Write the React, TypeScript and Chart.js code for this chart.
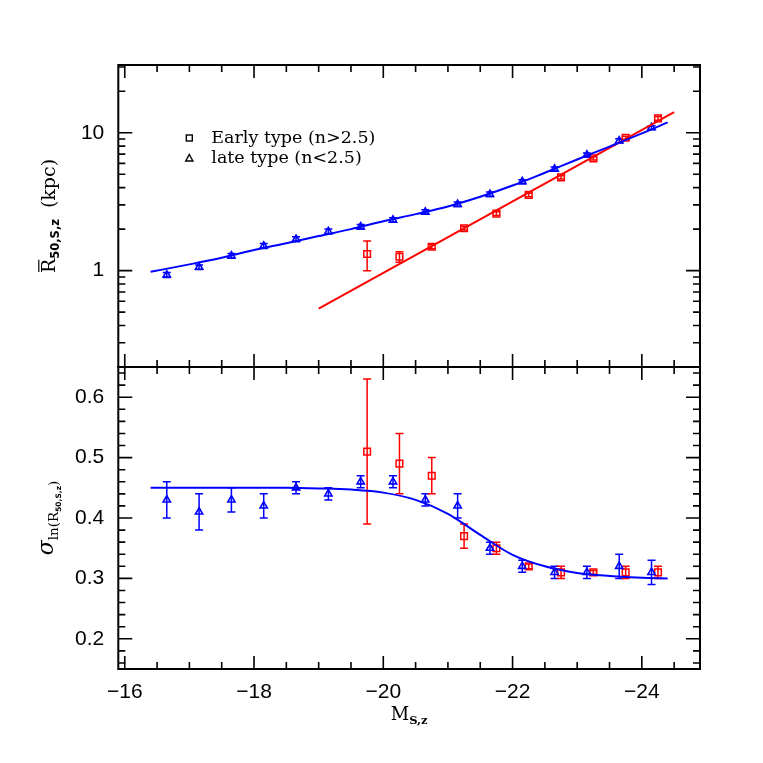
import React, { useEffect, useRef } from "react";
import { Chart, registerables } from "chart.js";

Chart.register(...registerables);

// ---------------- data ----------------
const lateMag = [-16.65, -17.15, -17.65, -18.15, -18.65, -19.15, -19.65, -20.15, -20.65, -21.15, -21.65, -22.15, -22.65, -23.15, -23.65, -24.15];
const lateSize = [0.93, 1.06, 1.28, 1.51, 1.69, 1.92, 2.08, 2.33, 2.66, 3.03, 3.58, 4.42, 5.46, 6.9, 8.75, 10.9];
const lateSizeErr = [0.04, 0.04, 0.05, 0.06, 0.07, 0.08, 0.08, 0.09, 0.1, 0.11, 0.13, 0.15, 0.18, 0.22, 0.28, 0.34];
const lateSigma = [0.43, 0.41, 0.43, 0.42, 0.45, 0.44, 0.46, 0.46, 0.43, 0.42, 0.35, 0.32, 0.31, 0.31, 0.32, 0.31];
const lateSigmaErr = [0.03, 0.03, 0.02, 0.02, 0.01, 0.01, 0.01, 0.01, 0.01, 0.02, 0.01, 0.01, 0.01, 0.01, 0.02, 0.02];

const earlyMag = [-19.75, -20.25, -20.75, -21.25, -21.75, -22.25, -22.75, -23.25, -23.75, -24.25];
const earlySize = [1.32, 1.26, 1.49, 2.03, 2.59, 3.54, 4.75, 6.52, 9.2, 12.7];
const earlySizeErr = [0.32, 0.11, 0.05, 0.06, 0.08, 0.1, 0.13, 0.18, 0.25, 0.4];
const earlySigma = [0.51, 0.49, 0.47, 0.37, 0.35, 0.32, 0.31, 0.31, 0.31, 0.31];
const earlySigmaErr = [0.12, 0.05, 0.03, 0.02, 0.01, 0.004, 0.01, 0.003, 0.01, 0.01];

const fitMag = [-16.4, -17, -17.5, -18, -18.5, -19, -19.5, -20, -20.5, -21, -21.5, -22, -22.5, -23, -23.5, -24, -24.4];
const lateSizeFit = [0.98, 1.11, 1.24, 1.41, 1.58, 1.78, 2.0, 2.28, 2.57, 2.92, 3.43, 4.14, 5.13, 6.4, 7.94, 9.89, 11.9];
const lateSigmaFit = [0.45, 0.45, 0.45, 0.45, 0.45, 0.449, 0.447, 0.442, 0.43, 0.407, 0.372, 0.339, 0.32, 0.309, 0.304, 0.301, 0.3];
const earlyFitMag = [-19.0, -24.5];
const earlySizeFit = [0.53, 14.1];

const xTickValues = [-16, -18, -20, -22, -24];
const sizeTickValues = [1, 10];
const sigmaTickValues = [0.2, 0.3, 0.4, 0.5, 0.6];
const legendLabels = ["Early type (n>2.5)", "late type (n<2.5)"];

// ---------------- styling ----------------
const BLUE = "rgb(0,0,255)";
const RED = "rgb(255,0,0)";
const TICK_FONT = { family: "Liberation Sans", size: 21 };

const pts = (xs: number[], ys: number[]) => xs.map((x, i) => ({ x, y: ys[i] }));

const errorBarPlugin = {
  id: "errorBars",
  beforeDatasetsDraw(chart: any) {
    const ctx = chart.ctx;
    const xs = chart.scales.x;
    chart.data.datasets.forEach((ds: any) => {
      if (!ds.errors) return;
      const ys = chart.scales[ds.yAxisID];
      ctx.save();
      ctx.strokeStyle = ds.borderColor;
      ctx.lineWidth = 1.5;
      ds.data.forEach((p: any, i: number) => {
        const e = ds.errors[i];
        const px = xs.getPixelForValue(p.x);
        const y1 = ys.getPixelForValue(p.y + e);
        const y2 = ys.getPixelForValue(p.y - e);
        ctx.beginPath();
        ctx.moveTo(px, y1);
        ctx.lineTo(px, y2);
        ctx.moveTo(px - 4, y1);
        ctx.lineTo(px + 4, y1);
        ctx.moveTo(px - 4, y2);
        ctx.lineTo(px + 4, y2);
        ctx.stroke();
      });
      ctx.restore();
    });
  },
};

function drawSegs(ctx: CanvasRenderingContext2D, segs: any[], x0: number, base: number) {
  let x = x0;
  const pos: number[] = [];
  for (const s of segs) {
    ctx.font = s.font;
    pos.push(x);
    ctx.fillText(s.t, x, base + s.dy);
    x += ctx.measureText(s.t).width + (s.gap || 0);
  }
  return pos;
}
function segsWidth(ctx: CanvasRenderingContext2D, segs: any[]) {
  let w = 0;
  for (const s of segs) {
    ctx.font = s.font;
    w += ctx.measureText(s.t).width + (s.gap || 0);
  }
  return w;
}

const framePlugin = {
  id: "frame",
  afterDraw(chart: any) {
    const ctx: CanvasRenderingContext2D = chart.ctx;
    const xs = chart.scales.x;
    const ca = chart.chartArea;
    const panels = [chart.scales.ySize, chart.scales.ySigma];
    ctx.save();
    ctx.strokeStyle = "#000";
    ctx.fillStyle = "#000";

    // x ticks (top & bottom of each panel)
    const xMinor: number[] = [];
    for (let v = -24.5; v <= -16; v += 0.5) xMinor.push(v);
    panels.forEach((ys: any) => {
      ctx.lineWidth = 1.6;
      ctx.beginPath();
      xMinor.forEach((v) => {
        const px = xs.getPixelForValue(v);
        const len = v % 2 === 0 ? 13 : 7;
        ctx.moveTo(px, ys.top);
        ctx.lineTo(px, ys.top + len);
        ctx.moveTo(px, ys.bottom);
        ctx.lineTo(px, ys.bottom - len);
      });
      ctx.stroke();
    });

    // y ticks for size panel (log)
    const ysz = chart.scales.ySize;
    ctx.beginPath();
    [0.1, 1, 10].forEach((d) => {
      for (let m = 1; m <= 9; m++) {
        const v = m * d;
        if (v < ysz.min || v > ysz.max) continue;
        const py = ysz.getPixelForValue(v);
        const len = m === 1 ? 14 : 7;
        ctx.moveTo(ca.left, py);
        ctx.lineTo(ca.left + len, py);
        ctx.moveTo(ca.right, py);
        ctx.lineTo(ca.right - len, py);
      }
    });
    ctx.stroke();

    // y ticks for sigma panel (linear)
    const ysg = chart.scales.ySigma;
    ctx.beginPath();
    for (let i = 8; i <= 32; i++) {
      const v = i * 0.02;
      const py = ysg.getPixelForValue(v);
      const len = i % 5 === 0 ? 14 : 7;
      ctx.moveTo(ca.left, py);
      ctx.lineTo(ca.left + len, py);
      ctx.moveTo(ca.right, py);
      ctx.lineTo(ca.right - len, py);
    }
    ctx.stroke();

    // frames
    ctx.lineWidth = 2;
    panels.forEach((ys: any) => {
      ctx.strokeRect(ca.left, ys.top, ca.right - ca.left, ys.bottom - ys.top);
    });

    // legend
    const lx = ca.left + 71;
    const ly1 = ysz.top + 73;
    const ly2 = ysz.top + 93.5;
    ctx.lineWidth = 1.4;
    ctx.strokeRect(lx - 3, ly1 - 3, 6, 6);
    ctx.beginPath();
    ctx.moveTo(lx, ly2 - 4);
    ctx.lineTo(lx + 3.6, ly2 + 2.5);
    ctx.lineTo(lx - 3.6, ly2 + 2.5);
    ctx.closePath();
    ctx.stroke();
    ctx.font = '17.5px "DejaVu Serif"';
    ctx.textBaseline = "middle";
    ctx.textAlign = "left";
    ctx.fillText(legendLabels[0], lx + 22, ly1);
    ctx.fillText(legendLabels[1], lx + 22, ly2);

    // axis titles
    ctx.textBaseline = "alphabetic";
    // x title
    const xSegs = [
      { t: "M", font: '18px "DejaVu Serif"', dy: 0 },
      { t: "S,z", font: 'bold 11.5px "DejaVu Serif"', dy: 4 },
    ];
    const xw = segsWidth(ctx, xSegs);
    drawSegs(ctx, xSegs, (ca.left + ca.right) / 2 - xw / 2, ca.bottom + 51);

    // top y title
    const tSegs = [
      { t: "R", font: '19px "DejaVu Serif"', dy: 0 },
      { t: "50,S,z", font: 'bold 11.5px "DejaVu Sans"', dy: 4, gap: 11 },
      { t: "(kpc)", font: '19px "DejaVu Serif"', dy: 0 },
    ];
    ctx.save();
    ctx.translate(ca.left - 63, (ysz.top + ysz.bottom) / 2);
    ctx.rotate(-Math.PI / 2);
    const tw = segsWidth(ctx, tSegs);
    const p = drawSegs(ctx, tSegs, -tw / 2, 0);
    ctx.font = '19px "DejaVu Serif"';
    const rw = ctx.measureText("R").width;
    ctx.lineWidth = 1.2;
    ctx.beginPath();
    ctx.moveTo(p[0] + 1, -16.5);
    ctx.lineTo(p[0] + rw - 1, -16.5);
    ctx.stroke();
    ctx.restore();

    // bottom y title
    const bSegs = [
      { t: "\u03C3", font: 'italic 22px "DejaVu Serif"', dy: 0 },
      { t: "ln(R", font: '13.5px "DejaVu Serif"', dy: 5 },
      { t: "50,S,z", font: 'bold 7.5px "DejaVu Sans"', dy: 8 },
      { t: ")", font: '13.5px "DejaVu Serif"', dy: 5 },
    ];
    ctx.save();
    ctx.translate(ca.left - 65, (ysg.top + ysg.bottom) / 2);
    ctx.rotate(-Math.PI / 2);
    const bw = segsWidth(ctx, bSegs);
    drawSegs(ctx, bSegs, -bw / 2, 0);
    ctx.restore();

    ctx.restore();
  },
};

export default function App() {
  const ref = useRef<HTMLCanvasElement>(null);
  useEffect(() => {
    const canvas = ref.current;
    if (!canvas) return;
    const chart = new Chart(canvas, {
      type: "scatter",
      data: {
        datasets: [
          {
            label: "late size fit",
            data: pts(fitMag, lateSizeFit),
            yAxisID: "ySize",
            showLine: true,
            borderColor: BLUE,
            borderWidth: 2,
            pointRadius: 0,
            cubicInterpolationMode: "monotone",
          },
          {
            label: "early size fit",
            data: pts(earlyFitMag, earlySizeFit),
            yAxisID: "ySize",
            showLine: true,
            borderColor: RED,
            borderWidth: 2,
            pointRadius: 0,
          },
          {
            label: "late size",
            data: pts(lateMag, lateSize),
            errors: lateSizeErr,
            yAxisID: "ySize",
            pointStyle: "triangle",
            pointRadius: 4.2,
            borderColor: BLUE,
            backgroundColor: "rgba(255,255,255,0)",
            borderWidth: 1.6,
          },
          {
            label: "early size",
            data: pts(earlyMag, earlySize),
            errors: earlySizeErr,
            yAxisID: "ySize",
            pointStyle: "rect",
            pointRadius: 4.7,
            borderColor: RED,
            backgroundColor: "rgba(255,255,255,0)",
            borderWidth: 1.5,
          },
          {
            label: "late sigma fit",
            data: pts(fitMag, lateSigmaFit),
            yAxisID: "ySigma",
            showLine: true,
            borderColor: BLUE,
            borderWidth: 2,
            pointRadius: 0,
            cubicInterpolationMode: "monotone",
          },
          {
            label: "late sigma",
            data: pts(lateMag, lateSigma),
            errors: lateSigmaErr,
            yAxisID: "ySigma",
            pointStyle: "triangle",
            pointRadius: 4.2,
            borderColor: BLUE,
            backgroundColor: "rgba(255,255,255,0)",
            borderWidth: 1.6,
          },
          {
            label: "early sigma",
            data: pts(earlyMag, earlySigma),
            errors: earlySigmaErr,
            yAxisID: "ySigma",
            pointStyle: "rect",
            pointRadius: 4.7,
            borderColor: RED,
            backgroundColor: "rgba(255,255,255,0)",
            borderWidth: 1.5,
          },
        ] as any,
      },
      options: {
        animation: false,
        responsive: false,
        events: [],
        layout: { padding: { top: 65, right: 63, left: 0, bottom: 0 } },
        plugins: { legend: { display: false }, tooltip: { enabled: false } },
        scales: {
          x: {
            type: "linear",
            position: "bottom",
            min: -24.9,
            max: -15.9,
            reverse: true,
            grid: { display: false, drawTicks: false },
            border: { display: false },
            afterBuildTicks: (s: any) => {
              s.ticks = xTickValues.map((v) => ({ value: v }));
            },
            afterFit: (s: any) => {
              s.height = 94;
            },
            ticks: {
              callback: (v: any) => String(v).replace("-", "\u2212"),
              font: TICK_FONT,
              color: "#000",
              padding: 11,
              maxRotation: 0,
              autoSkip: false,
            },
          },
          ySize: {
            type: "logarithmic",
            position: "left",
            stack: "panels",
            stackWeight: 1,
            weight: 1,
            min: 0.2,
            max: 31,
            grid: { display: false, drawTicks: false },
            border: { display: false },
            afterBuildTicks: (s: any) => {
              s.ticks = sizeTickValues.map((v) => ({ value: v }));
            },
            afterFit: (s: any) => {
              s.width = 118.3;
            },
            ticks: {
              callback: (v: any) => String(v),
              font: TICK_FONT,
              color: "#000",
              padding: 14,
              autoSkip: false,
            },
          },
          ySigma: {
            type: "linear",
            position: "left",
            stack: "panels",
            stackWeight: 1,
            weight: 0,
            min: 0.15,
            max: 0.65,
            grid: { display: false, drawTicks: false },
            border: { display: false },
            afterBuildTicks: (s: any) => {
              s.ticks = sigmaTickValues.map((v) => ({ value: v }));
            },
            afterFit: (s: any) => {
              s.width = 118.3;
            },
            ticks: {
              callback: (v: any) => Number(v).toFixed(1),
              font: TICK_FONT,
              color: "#000",
              padding: 14,
              autoSkip: false,
            },
          },
        },
      } as any,
      plugins: [errorBarPlugin, framePlugin],
    });
    return () => chart.destroy();
  }, []);
  return (
    <div style={{ position: "absolute", left: 0, top: 0, width: 763, height: 763, background: "#fff" }}>
      <canvas ref={ref} width={763} height={763} style={{ display: "block", width: 763, height: 763 }} />
    </div>
  );
}
